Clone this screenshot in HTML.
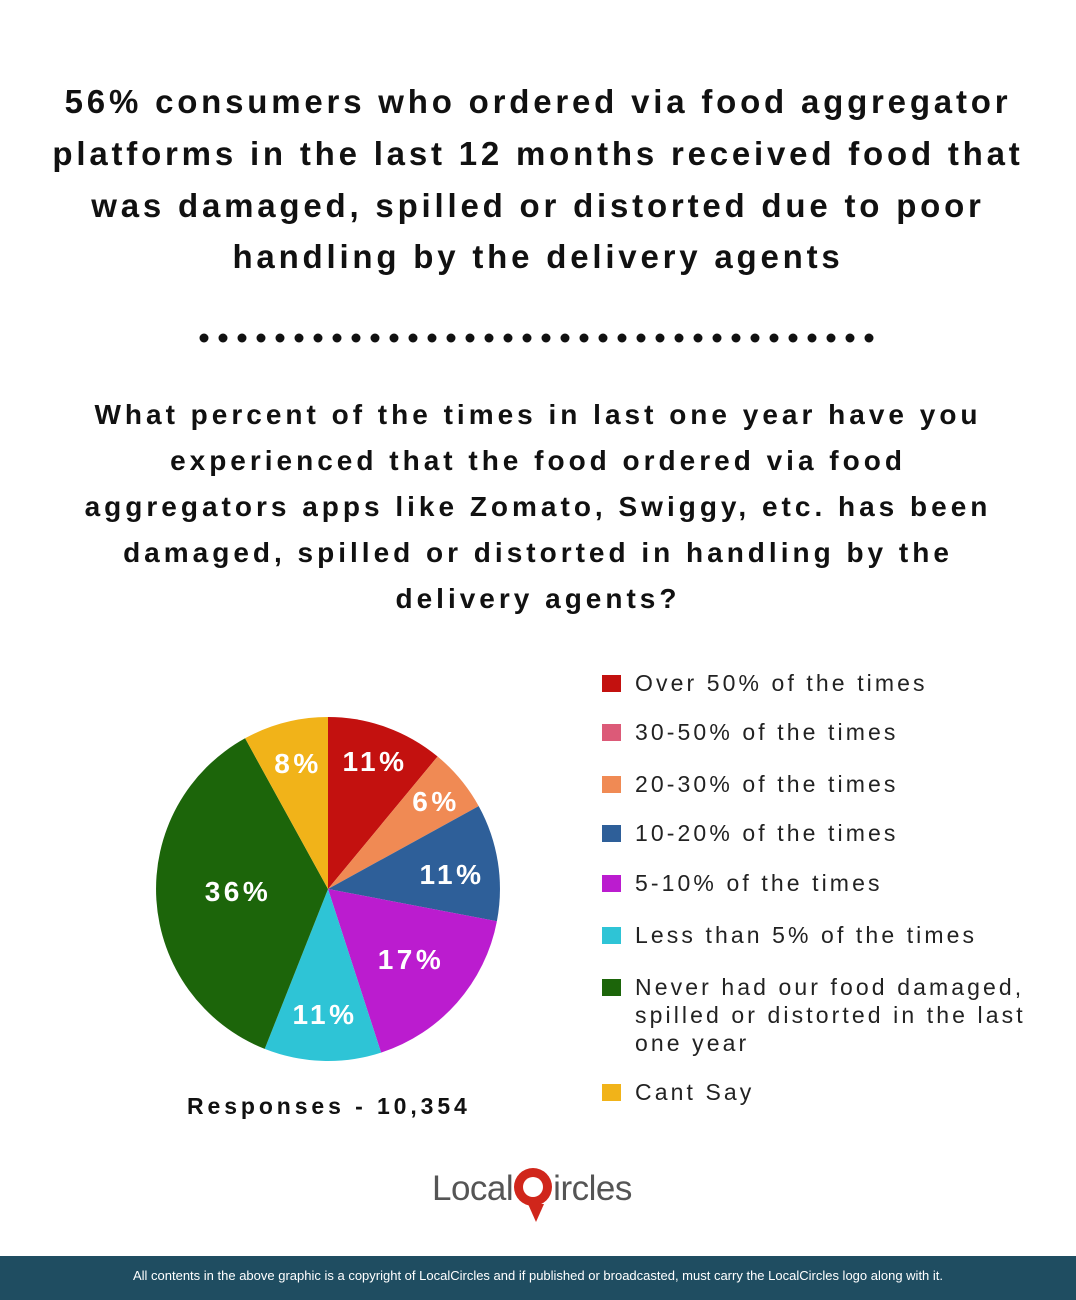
<!DOCTYPE html>
<html><head><meta charset="utf-8"><style>
body{margin:0;width:1076px;height:1300px;background:#fff;position:relative;overflow:hidden;font-family:"Liberation Sans",sans-serif;color:#111}
.t{position:absolute;left:0;width:1076px;text-align:center;font-weight:bold;white-space:nowrap}
.h{font-size:33px;letter-spacing:3.8px}
.q{font-size:28px;letter-spacing:4px}
.lg{position:absolute;left:602px;font-size:23px;letter-spacing:3.1px;color:#222;line-height:28px}
.lg i{position:absolute;left:0;top:6px;width:19px;height:17px}
.lg span{position:absolute;left:33px;white-space:nowrap}
.foot{position:absolute;left:0;top:1256px;width:1076px;height:44px;background:#1f4d61;color:#fff;font-size:13px;text-align:center;line-height:40px}
</style></head><body>
<div class="t h" style="top:83px">56% consumers who ordered via food aggregator</div>
<div class="t h" style="top:135px">platforms in the last 12 months received food that</div>
<div class="t h" style="top:187px">was damaged, spilled or distorted due to poor</div>
<div class="t h" style="top:238px">handling by the delivery agents</div>
<svg style="position:absolute;left:0;top:0" width="1076" height="1300">
<g fill="#111">
<circle cx="204" cy="338" r="4.5"/><circle cx="223" cy="338" r="4.5"/><circle cx="242" cy="338" r="4.5"/><circle cx="261" cy="338" r="4.5"/><circle cx="280" cy="338" r="4.5"/><circle cx="299" cy="338" r="4.5"/><circle cx="318" cy="338" r="4.5"/><circle cx="337" cy="338" r="4.5"/><circle cx="356" cy="338" r="4.5"/><circle cx="375" cy="338" r="4.5"/><circle cx="394" cy="338" r="4.5"/><circle cx="413" cy="338" r="4.5"/><circle cx="432" cy="338" r="4.5"/><circle cx="451" cy="338" r="4.5"/><circle cx="470" cy="338" r="4.5"/><circle cx="489" cy="338" r="4.5"/><circle cx="508" cy="338" r="4.5"/><circle cx="527" cy="338" r="4.5"/><circle cx="546" cy="338" r="4.5"/><circle cx="565" cy="338" r="4.5"/><circle cx="584" cy="338" r="4.5"/><circle cx="603" cy="338" r="4.5"/><circle cx="622" cy="338" r="4.5"/><circle cx="641" cy="338" r="4.5"/><circle cx="660" cy="338" r="4.5"/><circle cx="679" cy="338" r="4.5"/><circle cx="698" cy="338" r="4.5"/><circle cx="717" cy="338" r="4.5"/><circle cx="736" cy="338" r="4.5"/><circle cx="755" cy="338" r="4.5"/><circle cx="774" cy="338" r="4.5"/><circle cx="793" cy="338" r="4.5"/><circle cx="812" cy="338" r="4.5"/><circle cx="831" cy="338" r="4.5"/><circle cx="850" cy="338" r="4.5"/><circle cx="869" cy="338" r="4.5"/>
</g>
<path d="M328,889 L328,717 A172,172 0 0 1 437.6,756.5Z" fill="#c3110f"/>
<path d="M328,889 L437.6,756.5 A172,172 0 0 1 478.7,806.1Z" fill="#f08a54"/>
<path d="M328,889 L478.7,806.1 A172,172 0 0 1 496.9,921.2Z" fill="#2e5f99"/>
<path d="M328,889 L496.9,921.2 A172,172 0 0 1 381.1,1052.6Z" fill="#bb1ccf"/>
<path d="M328,889 L381.1,1052.6 A172,172 0 0 1 264.7,1048.9Z" fill="#2ec4d6"/>
<path d="M328,889 L264.7,1048.9 A172,172 0 0 1 245.1,738.3Z" fill="#1c650a"/>
<path d="M328,889 L245.1,738.3 A172,172 0 0 1 328,717Z" fill="#f1b319"/>
<g fill="#fff" font-family="Liberation Sans,sans-serif" font-weight="bold" font-size="28" letter-spacing="3.5" text-anchor="middle">
<text x="375" y="771">11%</text>
<text x="298" y="773">8%</text>
<text x="436" y="811">6%</text>
<text x="452" y="884">11%</text>
<text x="238" y="901">36%</text>
<text x="411" y="969">17%</text>
<text x="325" y="1024">11%</text>
</g>
</svg>
<div class="t q" style="top:399px">What percent of the times in last one year have you</div>
<div class="t q" style="top:445px">experienced that the food ordered via food</div>
<div class="t q" style="top:491px">aggregators apps like Zomato, Swiggy, etc. has been</div>
<div class="t q" style="top:537px">damaged, spilled or distorted in handling by the</div>
<div class="t q" style="top:583px">delivery agents?</div>
<div style="position:absolute;left:187px;top:1093px;font-size:23px;font-weight:bold;letter-spacing:3.9px;white-space:nowrap">Responses - 10,354</div>
<div class="lg" style="top:669px"><i style="background:#c3110f"></i><span>Over 50% of the times</span></div>
<div class="lg" style="top:718px"><i style="background:#dc5a78"></i><span>30-50% of the times</span></div>
<div class="lg" style="top:770px"><i style="background:#f08a54"></i><span>20-30% of the times</span></div>
<div class="lg" style="top:819px"><i style="background:#2e5f99"></i><span>10-20% of the times</span></div>
<div class="lg" style="top:869px"><i style="background:#bb1ccf"></i><span>5-10% of the times</span></div>
<div class="lg" style="top:921px"><i style="background:#2ec4d6"></i><span>Less than 5% of the times</span></div>
<div class="lg" style="top:973px"><i style="background:#1c650a"></i><span>Never had our food damaged,<br>spilled or distorted in the last<br>one year</span></div>
<div class="lg" style="top:1078px"><i style="background:#f1b319"></i><span>Cant Say</span></div>
<div style="position:absolute;left:432px;top:1168px;font-size:35px;color:#555;white-space:nowrap;letter-spacing:-0.5px">Local<span style="display:inline-block;width:38px;height:38px;border-radius:50%;background:#d0261b;vertical-align:-6px;margin:0 1px;position:relative"><span style="position:absolute;left:9px;top:9px;width:20px;height:20px;border-radius:50%;background:#fff"></span></span>ircles</div>
<div style="position:absolute;left:528px;top:1204px;width:0;height:0;border-left:8px solid transparent;border-right:8px solid transparent;border-top:18px solid #d0261b"></div>
<div class="foot">All contents in the above graphic is a copyright of LocalCircles and if published or broadcasted, must carry the LocalCircles logo along with it.</div>
</body></html>
